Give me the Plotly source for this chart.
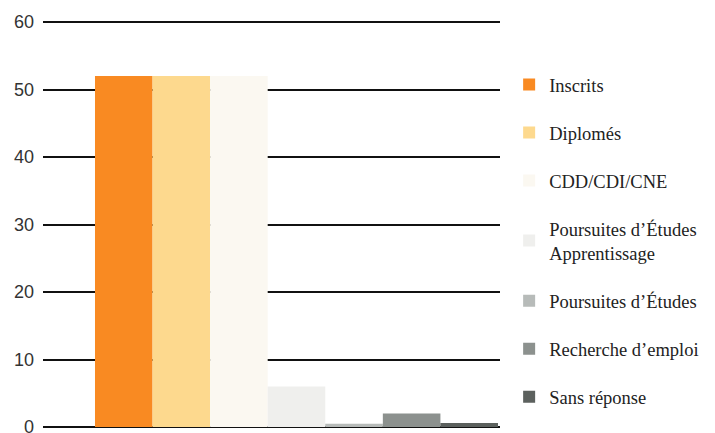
import plotly.graph_objects as go

# Categories shown as individual bars (one trace each, so each gets its own legend entry)
categories = [
    "Inscrits",
    "Diplomés",
    "CDD/CDI/CNE",
    "Poursuites d’Études<br>Apprentissage",
    "Poursuites d’Études",
    "Recherche d’emploi",
    "Sans réponse",
]
values = [52, 52, 52, 6, 0.5, 2, 0.6]
colors = ["#F98A22", "#FDD98E", "#FBF8F1", "#EFEFED", "#B7BBB9", "#8C918E", "#5C615E"]

y_ticks = [0, 10, 20, 30, 40, 50, 60]

fig = go.Figure()
for i, (name, val, col) in enumerate(zip(categories, values, colors)):
    fig.add_trace(go.Bar(
        x=[i], y=[val], name=name, width=1,
        marker=dict(color=col, line=dict(width=0)),
        legendgroup=f"g{i}",
    ))

fig.update_layout(
    width=715, height=433,
    margin=dict(l=43, r=215, t=19, b=6, autoexpand=False),
    paper_bgcolor="white", plot_bgcolor="white",
    barmode="overlay",
    showlegend=True,
    legend=dict(
        x=1.02, xanchor="left", y=0.885, yanchor="top",
        font=dict(family="Liberation Serif", size=18.5, color="#222222"),
        traceorder="grouped", tracegroupgap=21,
        bgcolor="rgba(0,0,0,0)",
    ),
    xaxis=dict(
        range=[-1.403, 6.535], showticklabels=False, showgrid=False,
        zeroline=False, showline=False, ticks="", automargin=False,
    ),
    yaxis=dict(
        range=[0, 60.45], tickvals=y_ticks, ticktext=[str(t) for t in y_ticks],
        showgrid=True, gridcolor="#111111", gridwidth=1.6,
        zeroline=True, zerolinecolor="#111111", zerolinewidth=1.6,
        showline=False, ticks="", ticklabelstandoff=8,
        ticklabeloverflow="allow", automargin=False,
        tickfont=dict(family="Liberation Sans", size=18, color="#333333"),
    ),
)

fig.write_html("out.html")
